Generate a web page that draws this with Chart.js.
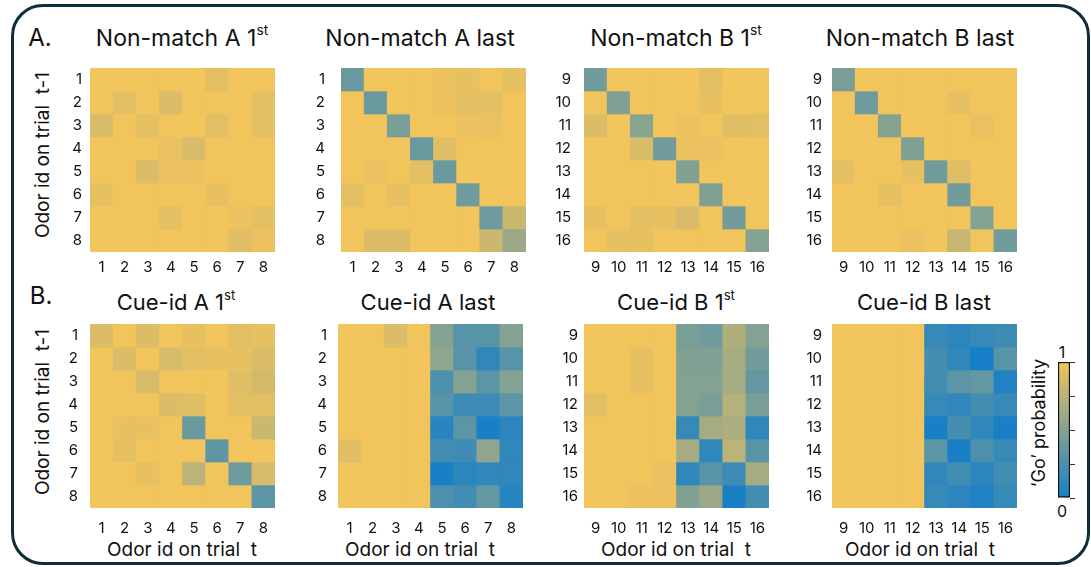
<!DOCTYPE html>
<html>
<head>
<meta charset="utf-8">
<script src="https://cdn.jsdelivr.net/npm/chart.js@4.4.1/dist/chart.umd.min.js"></script>
<style>
  html, body { margin: 0; padding: 0; }
  body { width: 1091px; height: 567px; background: #fff; position: relative; overflow: hidden;
         font-family: Inter, 'Open Sans', sans-serif; color: #111; }
  .frame { position: absolute; left: 11px; top: 4px; width: 1079px; height: 561px;
           border: 3.5px solid #0f2c3b; border-radius: 32px; box-sizing: border-box; }
  .txt { position: absolute; transform: translate(-50%, -50%); white-space: nowrap; line-height: 1; }
  .rot { transform: translate(-50%, -50%) rotate(-90deg); }
  .tA { font-size: 23px; }
  .tB { font-size: 22px; }
  .tag { font-size: 24px; }
  .axl { font-size: 19px; }
  sup { font-size: 0.6em; vertical-align: 0.75em; line-height: 0; }
  canvas { position: absolute; }
</style>
</head>
<body>
<div class="frame"></div>

<div class="txt tag" style="left:40px; top:38px;">A.</div>
<div class="txt tag" style="left:41px; top:296px;">B.</div>

<div class="txt tA" style="left:182px; top:38px;">Non-match A 1<sup>st</sup></div>
<div class="txt tA" style="left:420px; top:38px;">Non-match A last</div>
<div class="txt tA" style="left:676px; top:38px;">Non-match B 1<sup>st</sup></div>
<div class="txt tA" style="left:920px; top:38px;">Non-match B last</div>

<div class="txt tB" style="left:176px; top:302px;">Cue-id A 1<sup>st</sup></div>
<div class="txt tB" style="left:428px; top:302px;">Cue-id A last</div>
<div class="txt tB" style="left:676px; top:302px;">Cue-id B 1<sup>st</sup></div>
<div class="txt tB" style="left:924px; top:302px;">Cue-id B last</div>

<div class="txt axl rot" style="left:42px; top:155px;">Odor id on trial&nbsp; t-1</div>
<div class="txt axl rot" style="left:42px; top:412px;">Odor id on trial&nbsp; t-1</div>

<div class="txt axl" style="left:182px; top:549px;">Odor id on trial&nbsp; t</div>
<div class="txt axl" style="left:420px; top:549px;">Odor id on trial&nbsp; t</div>
<div class="txt axl" style="left:676px; top:549px;">Odor id on trial&nbsp; t</div>
<div class="txt axl" style="left:920px; top:549px;">Odor id on trial&nbsp; t</div>

<div class="txt" style="left:1062px; top:352px; font-size:16px;">1</div>
<div class="txt" style="left:1062px; top:511px; font-size:16px;">0</div>
<div class="txt rot" style="left:1039px; top:423px; font-size:18px;">‘Go’ probability</div>

<canvas id="nmA1"></canvas>
<canvas id="nmAL"></canvas>
<canvas id="nmB1"></canvas>
<canvas id="nmBL"></canvas>
<canvas id="ciA1"></canvas>
<canvas id="ciAL"></canvas>
<canvas id="ciB1"></canvas>
<canvas id="ciBL"></canvas>
<canvas id="cbar"></canvas>

<script>
// Odor identities (rows: odor on trial t-1, columns: odor on trial t)
const odorsA = ['1', '2', '3', '4', '5', '6', '7', '8'];
const odorsB = ['9', '10', '11', '12', '13', '14', '15', '16'];

// 'Go' probability per (t-1, t) odor pair
const nonMatchA1st = [
  [1.00, 1.00, 1.00, 1.00, 1.00, 0.93, 1.00, 1.00],
  [1.00, 0.93, 1.00, 0.90, 1.00, 1.00, 1.00, 0.94],
  [0.88, 1.00, 0.94, 1.00, 1.00, 0.93, 1.00, 0.94],
  [1.00, 1.00, 1.00, 0.96, 0.88, 1.00, 1.00, 1.00],
  [1.00, 1.00, 0.90, 0.97, 0.97, 1.00, 1.00, 1.00],
  [0.94, 1.00, 1.00, 1.00, 1.00, 0.95, 1.00, 1.00],
  [1.00, 1.00, 1.00, 0.94, 1.00, 1.00, 0.97, 0.94],
  [1.00, 1.00, 1.00, 1.00, 1.00, 1.00, 0.92, 0.97]
];
const nonMatchALast = [
  [0.38, 1.00, 1.00, 1.00, 0.97, 0.95, 1.00, 0.94],
  [1.00, 0.38, 1.00, 1.00, 0.97, 0.94, 0.94, 1.00],
  [1.00, 1.00, 0.45, 1.00, 1.00, 0.97, 0.96, 1.00],
  [1.00, 1.00, 1.00, 0.38, 0.92, 1.00, 1.00, 1.00],
  [1.00, 0.97, 1.00, 0.93, 0.38, 1.00, 1.00, 1.00],
  [0.93, 1.00, 0.95, 1.00, 1.00, 0.40, 1.00, 1.00],
  [1.00, 1.00, 1.00, 1.00, 1.00, 1.00, 0.40, 0.82],
  [1.00, 0.90, 0.90, 1.00, 1.00, 1.00, 0.82, 0.60]
];
const nonMatchB1st = [
  [0.42, 1.00, 1.00, 1.00, 1.00, 0.93, 1.00, 1.00],
  [1.00, 0.48, 1.00, 1.00, 1.00, 0.95, 1.00, 1.00],
  [0.90, 1.00, 0.52, 1.00, 0.97, 1.00, 0.92, 0.93],
  [1.00, 1.00, 0.88, 0.42, 0.97, 0.97, 1.00, 1.00],
  [1.00, 1.00, 1.00, 1.00, 0.48, 1.00, 1.00, 1.00],
  [1.00, 1.00, 1.00, 1.00, 1.00, 0.48, 1.00, 1.00],
  [0.95, 1.00, 0.94, 0.95, 0.88, 1.00, 0.42, 1.00],
  [1.00, 0.95, 0.95, 1.00, 1.00, 1.00, 1.00, 0.50]
];
const nonMatchBLast = [
  [0.45, 1.00, 1.00, 1.00, 1.00, 1.00, 1.00, 1.00],
  [1.00, 0.40, 1.00, 1.00, 1.00, 0.95, 1.00, 1.00],
  [1.00, 1.00, 0.50, 1.00, 1.00, 1.00, 0.96, 1.00],
  [1.00, 1.00, 1.00, 0.48, 1.00, 1.00, 1.00, 1.00],
  [0.94, 1.00, 1.00, 0.95, 0.42, 0.92, 1.00, 1.00],
  [1.00, 1.00, 0.94, 1.00, 1.00, 0.42, 1.00, 1.00],
  [1.00, 1.00, 1.00, 1.00, 1.00, 1.00, 0.50, 1.00],
  [1.00, 1.00, 1.00, 0.96, 1.00, 0.80, 1.00, 0.42]
];
const cueIdA1st = [
  [0.90, 1.00, 0.90, 1.00, 0.95, 1.00, 0.93, 0.95],
  [1.00, 0.90, 1.00, 0.88, 0.93, 0.95, 0.95, 0.90],
  [1.00, 1.00, 0.88, 1.00, 1.00, 1.00, 0.92, 0.86],
  [1.00, 1.00, 1.00, 0.90, 0.92, 1.00, 0.93, 0.93],
  [1.00, 0.95, 0.95, 1.00, 0.38, 1.00, 1.00, 0.82],
  [1.00, 0.94, 1.00, 1.00, 1.00, 0.33, 1.00, 1.00],
  [1.00, 1.00, 0.95, 1.00, 0.75, 1.00, 0.40, 0.88],
  [1.00, 1.00, 1.00, 1.00, 1.00, 1.00, 1.00, 0.32]
];
const cueIdALast = [
  [1.00, 1.00, 0.90, 1.00, 0.50, 0.30, 0.30, 0.50],
  [1.00, 1.00, 1.00, 1.00, 0.55, 0.30, 0.12, 0.30],
  [1.00, 1.00, 1.00, 1.00, 0.25, 0.50, 0.32, 0.50],
  [1.00, 1.00, 1.00, 1.00, 0.30, 0.18, 0.18, 0.32],
  [1.00, 1.00, 1.00, 1.00, 0.08, 0.32, 0.02, 0.10],
  [0.92, 1.00, 1.00, 1.00, 0.20, 0.18, 0.55, 0.12],
  [1.00, 1.00, 1.00, 1.00, 0.02, 0.10, 0.12, 0.12],
  [1.00, 1.00, 1.00, 1.00, 0.25, 0.20, 0.35, 0.08]
];
const cueIdB1st = [
  [1.00, 1.00, 1.00, 1.00, 0.45, 0.40, 0.70, 0.50],
  [1.00, 1.00, 0.95, 1.00, 0.48, 0.48, 0.65, 0.42],
  [1.00, 1.00, 0.95, 1.00, 0.50, 0.50, 0.65, 0.35],
  [0.93, 1.00, 1.00, 1.00, 0.50, 0.45, 0.72, 0.45],
  [1.00, 1.00, 1.00, 1.00, 0.15, 0.65, 0.68, 0.12],
  [1.00, 1.00, 1.00, 1.00, 0.65, 0.12, 0.75, 0.30],
  [1.00, 1.00, 1.00, 0.96, 0.12, 0.30, 0.18, 0.65],
  [1.00, 1.00, 0.97, 0.97, 0.48, 0.60, 0.02, 0.20]
];
const cueIdBLast = [
  [1.00, 1.00, 1.00, 1.00, 0.15, 0.10, 0.15, 0.18],
  [1.00, 1.00, 1.00, 1.00, 0.22, 0.12, 0.00, 0.30],
  [1.00, 1.00, 1.00, 1.00, 0.20, 0.32, 0.35, 0.05],
  [1.00, 1.00, 1.00, 1.00, 0.15, 0.12, 0.20, 0.15],
  [1.00, 1.00, 1.00, 1.00, 0.02, 0.22, 0.12, 0.02],
  [1.00, 1.00, 1.00, 1.00, 0.32, 0.02, 0.25, 0.15],
  [1.00, 1.00, 1.00, 1.00, 0.12, 0.20, 0.10, 0.20],
  [1.00, 1.00, 1.00, 1.00, 0.15, 0.10, 0.05, 0.15]
];

// Colour map: 0 = blue, 1 = yellow
const COLD = [22, 127, 200];
const WARM = [242, 196, 92];
function goColor(v) {
  const t = Math.max(0, Math.min(1, v));
  const c = COLD.map((a, i) => Math.round(a + (WARM[i] - a) * t));
  return `rgb(${c[0]},${c[1]},${c[2]})`;
}

Chart.defaults.font.family = "Inter, 'Open Sans', sans-serif";
Chart.defaults.color = '#111';
Chart.defaults.animation = false;

const CELL_W = 185, CELL_H = 184, Y_AXIS_W = 48, X_AXIS_H = 34;

// Keep the plot area flush with the axes (no extra room for edge labels)
function noEdgePadding(s) {
  s.paddingTop = 0; s.paddingBottom = 0; s.paddingLeft = 0; s.paddingRight = 0;
}

// Heatmap drawn as a stacked bar chart: one dataset per t-1 row, one bar per t column
function heatmap(id, labels, matrix, box) {
  const cv = document.getElementById(id);
  cv.width = CELL_W + Y_AXIS_W;
  cv.height = CELL_H + X_AXIS_H;
  cv.style.left = (box.left - Y_AXIS_W) + 'px';
  cv.style.top = box.top + 'px';
  const datasets = matrix.map((row, r) => ({
    label: labels[r],
    data: row.map(() => 1),
    backgroundColor: row.map(goColor),
    borderWidth: 0,
    barPercentage: 1,
    categoryPercentage: 1
  }));
  return new Chart(cv, {
    type: 'bar',
    data: { labels: labels, datasets: datasets },
    options: {
      responsive: false,
      devicePixelRatio: 1,
      layout: { padding: 0, autoPadding: false },
      plugins: { legend: { display: false }, tooltip: { enabled: false } },
      scales: {
        x: {
          stacked: true,
          grid: { display: false, drawTicks: false },
          border: { display: false },
          ticks: { autoSkip: false, maxRotation: 0, padding: box.xPad, font: { size: 15 }, color: '#111' },
          afterFit: s => { s.height = X_AXIS_H; noEdgePadding(s); }
        },
        y: {
          type: 'linear',
          stacked: true,
          min: 0,
          max: labels.length,
          reverse: true,
          grid: { display: false, drawTicks: false },
          border: { display: false },
          afterBuildTicks: s => { s.ticks = labels.map((_, i) => ({ value: i + 0.5 })); },
          ticks: {
            padding: box.yPad,
            font: { size: 15 },
            color: '#111',
            callback: v => labels[Math.floor(v)]
          },
          afterFit: s => { s.width = Y_AXIS_W; noEdgePadding(s); }
        }
      }
    }
  });
}

heatmap('nmA1', odorsA, nonMatchA1st,  { left: 90,  top: 68,  xPad: 6,  yPad: 8 });
heatmap('nmAL', odorsA, nonMatchALast, { left: 341, top: 68,  xPad: 6,  yPad: 16 });
heatmap('nmB1', odorsB, nonMatchB1st,  { left: 584, top: 68,  xPad: 6,  yPad: 13 });
heatmap('nmBL', odorsB, nonMatchBLast, { left: 832, top: 68,  xPad: 6,  yPad: 10 });
heatmap('ciA1', odorsA, cueIdA1st,     { left: 90,  top: 324, xPad: 11, yPad: 12 });
heatmap('ciAL', odorsA, cueIdALast,    { left: 338, top: 324, xPad: 11, yPad: 11 });
heatmap('ciB1', odorsB, cueIdB1st,     { left: 584, top: 324, xPad: 11, yPad: 6 });
heatmap('ciBL', odorsB, cueIdBLast,    { left: 832, top: 324, xPad: 11, yPad: 10 });

// Colour bar: a single full-height bar filled with the colour map
const cbTicks = [0, 0.25, 0.5, 0.75, 1];
(function () {
  const cv = document.getElementById('cbar');
  cv.width = 20;
  cv.height = 141;
  cv.style.left = '1056px';
  cv.style.top = '360px';
  new Chart(cv, {
    type: 'bar',
    data: {
      labels: [''],
      datasets: [{
        data: [1],
        barPercentage: 1,
        categoryPercentage: 1,
        borderWidth: 1.5,
        borderColor: '#111',
        borderSkipped: false,
        backgroundColor: ctx => {
          const area = ctx.chart.chartArea;
          if (!area) return goColor(0.5);
          const g = ctx.chart.ctx.createLinearGradient(0, area.bottom, 0, area.top);
          cbTicks.forEach(t => g.addColorStop(t, goColor(t)));
          return g;
        }
      }]
    },
    options: {
      responsive: false,
      devicePixelRatio: 1,
      layout: { padding: { left: 2, top: 2, bottom: 3, right: 0 }, autoPadding: false },
      plugins: { legend: { display: false }, tooltip: { enabled: false } },
      scales: {
        x: { display: false },
        y: {
          position: 'right',
          min: 0,
          max: 1,
          afterBuildTicks: s => { s.ticks = cbTicks.map(v => ({ value: v })); },
          ticks: { display: false },
          grid: { drawOnChartArea: false, drawTicks: true, tickLength: 5, color: '#333', lineWidth: 1 },
          border: { display: false },
          afterFit: s => { s.width = 6; noEdgePadding(s); }
        }
      }
    }
  });
})();
</script>
</body>
</html>
